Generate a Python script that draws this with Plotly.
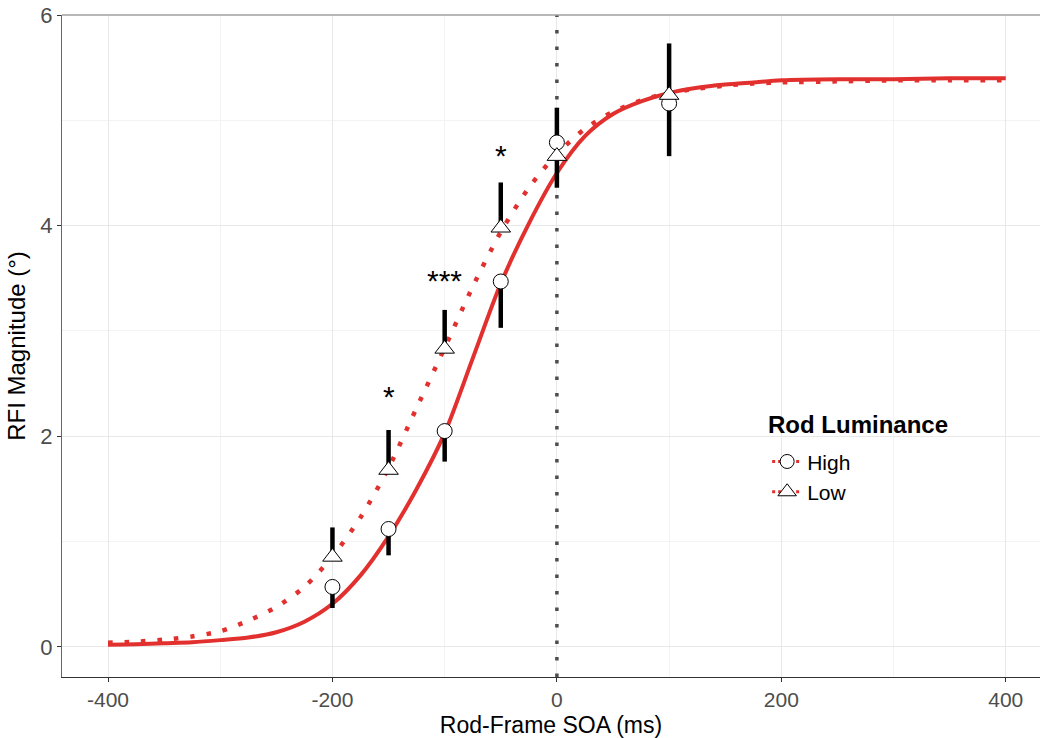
import plotly.graph_objects as go

# ---- data ----
soa_levels = [-200, -150, -100, -50, 0, 100]
high_mean = [0.57, 1.12, 2.05, 3.47, 4.79, 5.16]
high_err_up = [0, 0, 0, 0, 0.33, 0]
high_err_down = [0.20, 0.25, 0.29, 0.44, 0, 0.50]
low_mean = [0.855, 1.68, 2.83, 3.98, 4.66, 5.24]
low_err_up = [0.28, 0.38, 0.37, 0.43, 0, 0.49]
low_err_down = [0, 0, 0, 0, 0.30, 0]

curve_x = [-400, -375, -350, -325, -300, -275, -250, -225, -200, -175, -150, -125,
           -100, -75, -50, -25, 0, 25, 50, 75, 100, 125, 150, 175, 200, 250, 300, 350, 400]
curve_high = [0.02, 0.025, 0.035, 0.045, 0.065, 0.09, 0.14, 0.24, 0.41, 0.68, 1.05, 1.50,
              2.03, 2.74, 3.45, 4.02, 4.50, 4.85, 5.06, 5.18, 5.26, 5.31, 5.34, 5.36, 5.38,
              5.39, 5.39, 5.40, 5.40]
curve_low = [0.04, 0.05, 0.07, 0.10, 0.15, 0.25, 0.38, 0.57, 0.86, 1.23, 1.70, 2.27,
             2.84, 3.42, 3.94, 4.36, 4.68, 4.92, 5.08, 5.19, 5.26, 5.30, 5.33, 5.35, 5.36,
             5.37, 5.38, 5.38, 5.38]

sig_x = [-150, -100, -50]
sig_y = [2.38, 3.48, 4.67]
sig_text = ["*", "***", "*"]

x_ticks = [-400, -200, 0, 200, 400]
y_ticks = [0, 2, 4, 6]
x_range = [-441, 430.5]
y_range = [-0.285, 6.0]
vline_x = 0

RED = "#E2302E"
FONT = "Liberation Sans, Arial, sans-serif"

fig = go.Figure()

# fitted curves
fig.add_trace(go.Scatter(x=curve_x, y=curve_high, mode="lines",
                         line=dict(color=RED, width=4, shape="spline", smoothing=0.8),
                         showlegend=False, hoverinfo="skip"))
fig.add_trace(go.Scatter(x=curve_x, y=curve_low, mode="lines",
                         line=dict(color=RED, width=4.5, dash="4.5px,12px", shape="spline",
                                   smoothing=0.8),
                         showlegend=False, hoverinfo="skip"))
# vertical reference line at SOA 0
fig.add_trace(go.Scatter(x=[vline_x, vline_x], y=y_range, mode="lines",
                         line=dict(color="#4d4d4d", width=3.5, dash="3.5px,13px"),
                         showlegend=False, hoverinfo="skip"))

# points with one-sided error bars
fig.add_trace(go.Scatter(
    x=soa_levels, y=high_mean, mode="markers", showlegend=False,
    marker=dict(symbol="circle", size=15, color="white", line=dict(color="black", width=1)),
    error_y=dict(type="data", symmetric=False, array=high_err_up, arrayminus=high_err_down,
                 color="black", thickness=4.5, width=0)))
fig.add_trace(go.Scatter(
    x=soa_levels, y=low_mean, mode="markers", showlegend=False,
    marker=dict(symbol="triangle-up", size=17, color="white", line=dict(color="black", width=1)),
    error_y=dict(type="data", symmetric=False, array=low_err_up, arrayminus=low_err_down,
                 color="black", thickness=4.5, width=0)))

# legend entries
fig.add_trace(go.Scatter(x=[None], y=[None], mode="lines+markers", name="High",
                         line=dict(color=RED, width=3, dash="3px,3px"),
                         marker=dict(symbol="circle", size=14, color="white",
                                     line=dict(color="black", width=1))))
fig.add_trace(go.Scatter(x=[None], y=[None], mode="lines+markers", name="Low",
                         line=dict(color=RED, width=3, dash="3px,3px"),
                         marker=dict(symbol="triangle-up", size=16, color="white",
                                     line=dict(color="black", width=1))))

for sx, sy, st in zip(sig_x, sig_y, sig_text):
    fig.add_annotation(x=sx, y=sy, text=st, showarrow=False, xanchor="center", yanchor="middle",
                       font=dict(size=30, color="black", family=FONT))

# legend title
fig.add_annotation(xref="paper", yref="paper", x=0.7195, y=0.381, xanchor="left",
                   yanchor="middle", text="<b>Rod Luminance</b>", showarrow=False,
                   font=dict(size=24, color="black", family=FONT))

fig.add_shape(type="line", xref="paper", yref="paper", x0=0, x1=1, y0=1, y1=1,
              line=dict(color="#a0a0a0", width=1.3))

fig.update_layout(
    width=1040, height=738,
    margin=dict(l=62, r=0, t=15, b=61),
    paper_bgcolor="white", plot_bgcolor="white",
    font=dict(family=FONT, size=22, color="black"),
    legend=dict(
        font=dict(size=21, color="black"),
        x=0.721, y=0.356, xanchor="left", yanchor="top",
        bgcolor="rgba(0,0,0,0)", tracegroupgap=0, itemwidth=30,
    ),
    xaxis=dict(
        range=x_range, tickvals=x_ticks, ticktext=[str(v) for v in x_ticks],
        showgrid=True, gridcolor="#e8e8e8", gridwidth=1.2,
        minor=dict(dtick=100, tick0=0, showgrid=True, gridcolor="#f3f3f3", gridwidth=0.8),
        showline=True, linecolor="#333333", linewidth=1.3,
        ticks="outside", ticklen=4, tickcolor="#333333", tickwidth=1,
        tickfont=dict(size=21, color="#4d4d4d"),
        title=dict(text="Rod-Frame SOA (ms)", font=dict(size=23, color="black"), standoff=9),
        zeroline=False,
    ),
    yaxis=dict(
        range=y_range, tickvals=y_ticks, ticktext=[str(v) for v in y_ticks],
        showgrid=True, gridcolor="#e8e8e8", gridwidth=1.2,
        minor=dict(dtick=1, tick0=0, showgrid=True, gridcolor="#f3f3f3", gridwidth=0.8),
        showline=True, linecolor="#666666", linewidth=1.3,
        ticks="outside", ticklen=4, tickcolor="#333333", tickwidth=1,
        tickfont=dict(size=22, color="#4d4d4d"),
        title=dict(text="RFI Magnitude (°)", font=dict(size=24, color="black"), standoff=7),
        zeroline=False,
    ),
)

fig.write_html("out.html")
